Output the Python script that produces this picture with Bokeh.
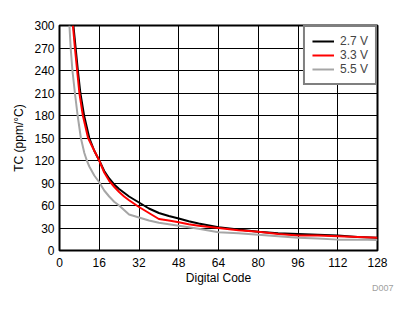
from bokeh.plotting import figure
from bokeh.models import Legend, LegendItem, Title, FixedTicker, Range1d
from bokeh.embed import file_html
from bokeh.resources import INLINE

# Data
code_27 = [5.6, 6.5, 7.4, 8.4, 9.9, 12, 14, 16, 18, 20, 22, 24, 26, 28, 32, 36, 40, 44, 48, 52, 56, 64, 72, 80, 88, 96, 104, 112, 120, 128]
tc_27 = [300, 270, 240, 210, 180, 150, 133, 120, 106, 96, 88, 82, 77, 72, 64, 56, 50, 46, 42.7, 39, 36, 31, 28, 25, 23, 22, 21, 20, 18, 17]

code_33 = [5.4, 6.2, 7.1, 8.0, 9.4, 11.5, 14, 16, 18, 20, 22, 24, 26, 28, 32, 36, 40, 44, 48, 52, 56, 64, 72, 80, 88, 96, 104, 112, 120, 128]
tc_33 = [300, 270, 240, 210, 180, 150, 133, 120, 104, 93, 85, 78, 72, 67, 58, 50, 42, 40, 37.7, 35, 33, 30, 27, 25, 22, 20, 20, 19, 18, 17]

code_55 = [4.0, 4.5, 5.2, 6.2, 7.3, 8.6, 10, 11, 12, 14, 16, 18, 20, 22, 24, 26, 28, 32, 36, 40, 44, 48, 56, 64, 72, 80, 88, 96, 104, 112, 120, 128]
tc_55 = [300, 270, 240, 210, 180, 150, 130, 120, 112, 100, 91, 80, 72, 65, 60, 54, 48, 44, 40, 37, 35, 33, 29, 24.4, 23, 21, 19, 17, 16, 14.5, 14.5, 14]

x_ticks = [0, 16, 32, 48, 64, 80, 96, 112, 128]
y_ticks = [0, 30, 60, 90, 120, 150, 180, 210, 240, 270, 300]
series_names = ["2.7 V", "3.3 V", "5.5 V"]
series_colors = ["#000000", "#FF0000", "#A6A6A6"]

FONT = "Liberation Sans"

p = figure(width=410, height=312, output_backend="svg", toolbar_location=None,
           x_range=Range1d(0, 128), y_range=Range1d(0, 300),
           min_border_left=59, min_border_right=33, min_border_top=25, min_border_bottom=62)
p.background_fill_color = "white"
p.border_fill_color = "white"
p.outline_line_color = "black"
p.outline_line_width = 2

for ax in (p.xaxis[0], p.yaxis[0]):
    ax.axis_line_color = None
    ax.major_tick_line_color = None
    ax.minor_tick_line_color = None
    ax.major_tick_out = 0
    ax.major_tick_in = 0
    ax.minor_tick_out = 0
    ax.major_label_text_font = FONT
    ax.major_label_text_font_size = "12px"
    ax.major_label_text_color = "black"
    ax.axis_label_text_font = FONT
    ax.axis_label_text_font_size = "12px"
    ax.axis_label_text_font_style = "normal"
    ax.axis_label_text_color = "black"

p.xaxis.ticker = FixedTicker(ticks=x_ticks)
p.yaxis.ticker = FixedTicker(ticks=y_ticks)
p.xaxis.axis_label = "Digital Code"
p.yaxis.axis_label = "TC (ppm/°C)"
p.xaxis.major_label_standoff = 7
p.yaxis.major_label_standoff = 5
p.xaxis.axis_label_standoff = 1
p.yaxis.axis_label_standoff = 5

p.xgrid.ticker = FixedTicker(ticks=x_ticks)
p.ygrid.ticker = FixedTicker(ticks=y_ticks)
for g in (p.xgrid[0], p.ygrid[0]):
    g.grid_line_color = "black"
    g.grid_line_width = 1
    g.grid_line_alpha = 1

r27 = p.line(code_27, tc_27, line_color=series_colors[0], line_width=2)
r33 = p.line(code_33, tc_33, line_color=series_colors[1], line_width=2)
r55 = p.line(code_55, tc_55, line_color=series_colors[2], line_width=2)

legend = Legend(items=[LegendItem(label=series_names[0], renderers=[r27]),
                       LegendItem(label=series_names[1], renderers=[r33]),
                       LegendItem(label=series_names[2], renderers=[r55])],
                location="top_right", margin=0, padding=7, spacing=0,
                glyph_width=22, glyph_height=14, label_height=14, label_standoff=6,
                label_text_font=FONT, label_text_font_size="12px",
                border_line_color="black", border_line_width=2,
                background_fill_color="white", background_fill_alpha=1)
p.add_layout(legend)

p.add_layout(Title(text="D007", align="right", offset=-16, standoff=-9,
                   vertical_align="top",
                   text_font=FONT, text_font_size="9px", text_font_style="normal",
                   text_color="#A0A0A0"), "below")

open("out.html", "w").write(file_html(p, INLINE))
